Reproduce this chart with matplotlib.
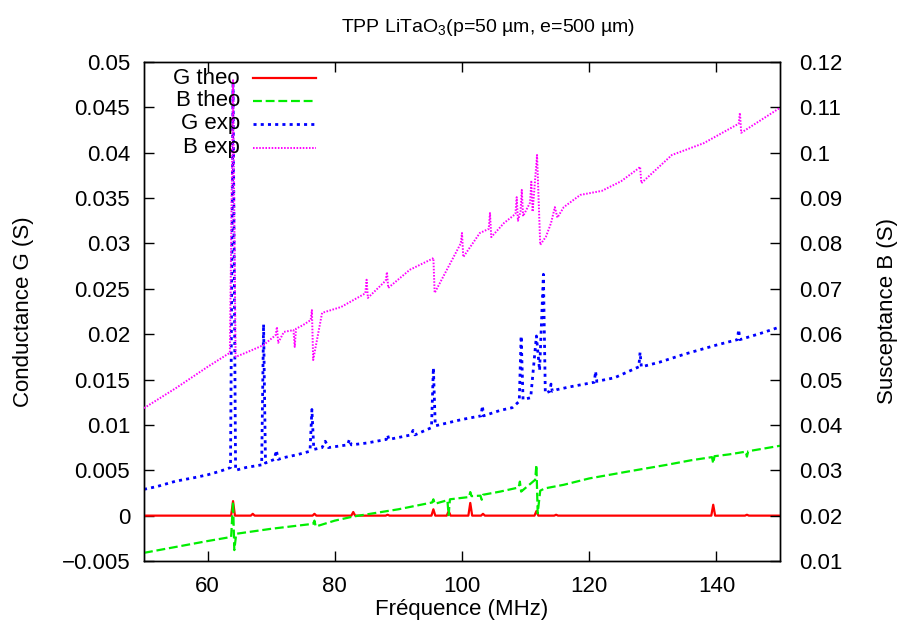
import matplotlib
matplotlib.use("Agg")
import matplotlib.pyplot as plt
from matplotlib.lines import Line2D
from matplotlib.ticker import FuncFormatter, MultipleLocator

plt.rcParams['font.family'] = ['Liberation Sans', 'DejaVu Sans']
plt.rcParams['mathtext.fontset'] = 'custom'
plt.rcParams['mathtext.rm'] = 'Liberation Sans'
plt.rcParams['mathtext.default'] = 'regular'
FS = 16

# ---------------- data ----------------
g_theo_f = [50, 63.7, 64.0, 64.3, 66.8, 67.1, 67.4, 76.5, 76.8, 77.1, 82.6, 82.9, 83.2,
            88.0, 88.3, 88.6, 95.2, 95.5, 95.8, 97.6, 97.9, 98.2, 101.0, 101.3, 101.6,
            103.0, 103.3, 103.6, 111.4, 111.7, 112.0, 114.5, 114.8, 115.1, 139.2, 139.5,
            139.8, 144.5, 144.8, 145.1, 150]
g_theo_v = [0, 0, 0.0016, 0, 0, 0.0002, 0, 0, 0.0002, 0, 0, 0.0004, 0,
            0, 0.0001, 0, 0, 0.0007, 0, 0, 0.0005, 0, 0, 0.0014, 0,
            0, 0.0002, 0, 0, 0.0005, 0, 0, 0.0001, 0, 0, 0.0012,
            0, 0, 0.0001, 0, 0]

b_theo_f = [50, 55, 60, 63.7, 64.0, 64.2, 64.5, 66, 70, 73, 76.6, 76.8, 77.0, 80, 82.9,
            86, 90, 95.3, 95.5, 95.7, 97.7, 97.9, 98.1, 101.1, 101.3, 101.5, 102.9, 103.1,
            103.3, 106, 108.9, 109.1, 109.3, 111.5, 111.7, 111.9, 112.3, 113, 116, 120,
            126, 132.2, 136, 139.3, 139.5, 139.7, 142, 144.6, 144.8, 145.0, 150]
b_theo_v = [0.0118, 0.0131, 0.0144, 0.0153, 0.0231, 0.0124, 0.0160, 0.0163, 0.0171,
            0.0176, 0.0182, 0.0189, 0.0176, 0.0189, 0.0198, 0.0205, 0.0214, 0.0229,
            0.0236, 0.0226, 0.0234, 0.0201, 0.0236, 0.0241, 0.0252, 0.0243, 0.0244,
            0.0235, 0.0246, 0.0253, 0.0262, 0.0275, 0.0253, 0.0279, 0.0312, 0.0205,
            0.0255, 0.0260, 0.0268, 0.0282, 0.0297, 0.0312, 0.0322, 0.0329, 0.0315,
            0.0331, 0.0335, 0.0341, 0.0330, 0.0342, 0.0354]

g_exp_f = [50, 52, 55, 58, 60, 62, 63.6, 64.0, 64.4, 66, 68.5, 68.8, 69.1, 70.5, 70.8,
           71.1, 72, 74, 76.1, 76.4, 76.7, 78, 78.5, 79, 80, 82, 82.3, 82.6, 85, 88.1,
           88.3, 88.5, 92, 92.3, 92.6, 95.2, 95.5, 95.8, 100, 103.0, 103.2, 103.4, 106,
           107.9, 109.0, 109.3, 109.6, 110.8, 111.7, 112.2, 112.8, 113.1, 113.8, 114.0,
           114.2, 115, 117, 120.8, 121.0, 121.2, 124, 127.8, 128.0, 128.2, 131, 135,
           140, 143.3, 143.5, 143.7, 147, 150]
g_exp_v = [0.0029, 0.0032, 0.0038, 0.0042, 0.0045, 0.0049, 0.0053, 0.0475, 0.0050,
           0.0053, 0.0056, 0.0211, 0.0058, 0.0062, 0.0072, 0.0062, 0.0064, 0.0067,
           0.0071, 0.0117, 0.0073, 0.0075, 0.0082, 0.0075, 0.0076, 0.0078, 0.0084,
           0.0078, 0.0080, 0.0084, 0.0089, 0.0084, 0.0089, 0.0094, 0.0089, 0.0097,
           0.0163, 0.0099, 0.0106, 0.0110, 0.0121, 0.0110, 0.0116, 0.0119, 0.0126,
           0.0198, 0.0128, 0.0130, 0.0198, 0.0160, 0.0266, 0.0135, 0.0137, 0.0145,
           0.0137, 0.0139, 0.0142, 0.0147, 0.0159, 0.0148, 0.0152, 0.0164, 0.0180,
           0.0164, 0.0169, 0.0178, 0.0188, 0.0194, 0.0205, 0.0194, 0.0201, 0.0208]

b_exp_f = [50, 55, 60, 63.5, 64.0, 64.4, 66, 68.8, 70.7, 70.9, 71.1, 72, 73.5, 73.7,
           73.9, 75, 76.2, 76.4, 76.6, 78, 81, 84.8, 85.0, 85.2, 88.0, 88.2, 88.4, 91.8,
           95.3, 95.5, 95.7, 99.8, 100.0, 100.2, 102.8, 104.2, 104.4, 104.6, 106.6,
           108.4, 108.6, 108.8, 109.2, 109.4, 109.6, 110.7, 110.9, 111.1, 111.8, 112.3,
           113.2, 114.0, 114.6, 115.0, 116, 118.6, 122, 125, 127.8, 128.0, 128.2, 133,
           138, 143.5, 143.7, 143.9, 150]
b_exp_v = [0.0437, 0.0481, 0.0528, 0.0559, 0.1160, 0.0550, 0.0559, 0.0576, 0.0598,
           0.0616, 0.0581, 0.0605, 0.0609, 0.0572, 0.0612, 0.0620, 0.0631, 0.0653,
           0.0543, 0.0647, 0.0660, 0.0690, 0.0720, 0.0680, 0.0718, 0.0737, 0.0702,
           0.0742, 0.0766, 0.0768, 0.0691, 0.0800, 0.0823, 0.0770, 0.0823, 0.0832,
           0.0867, 0.0814, 0.0845, 0.0865, 0.0902, 0.0850, 0.0870, 0.0918, 0.0860,
           0.0890, 0.0936, 0.0870, 0.0995, 0.0797, 0.0815, 0.0845, 0.0880, 0.0857,
           0.0880, 0.0907, 0.0916, 0.0937, 0.0966, 0.0969, 0.0933, 0.0995, 0.1021,
           0.1064, 0.1088, 0.1044, 0.1099]

labels = ["G theo", "B theo", "G exp", "B exp"]
colors = ["#ff0000", "#00ee00", "#0000ff", "#ff00ff"]

# ---------------- figure ----------------
W, H = 900, 630
fig = plt.figure(figsize=(9, 6.3), dpi=100)
ax = fig.add_axes([144 / W, 1 - 561 / H, (780 - 144) / W, (561 - 62) / H])
ax2 = ax.twinx()

styles = [dict(ls='-', lw=1.6),
          dict(ls=(0, (4, 1.7)), lw=1.6),
          dict(ls=(0, (1.1, 1.5)), lw=2.0),
          dict(ls=(0, (0.8, 0.8)), lw=1.4)]

ax.plot(g_theo_f, g_theo_v, color=colors[0], **styles[0], zorder=3)
ax.plot(g_exp_f, g_exp_v, color=colors[2], **styles[2], zorder=2)
ax2.plot(b_theo_f, b_theo_v, color=colors[1], **styles[1], zorder=2)
ax2.plot(b_exp_f, b_exp_v, color=colors[3], **styles[3], zorder=3)

ax.set_xlim(50, 150)
ax.set_ylim(-0.005, 0.05)
ax2.set_ylim(0.01, 0.12)

ax.xaxis.set_major_locator(MultipleLocator(20))
ax.yaxis.set_major_locator(MultipleLocator(0.005))
ax2.yaxis.set_major_locator(MultipleLocator(0.01))
fmt = FuncFormatter(lambda v, p: ('%g' % round(v, 6)).replace('-', '\u2212'))
ax.yaxis.set_major_formatter(fmt)
ax2.yaxis.set_major_formatter(fmt)

ax.tick_params(axis='x', direction='in', length=7, top=True, labelsize=FS, pad=11, width=1)
ax.tick_params(axis='y', direction='in', length=7, right=False, labelsize=FS, pad=10, width=1)
ax2.tick_params(axis='y', direction='in', length=7, labelsize=FS, pad=14, width=1)
for a in (ax, ax2):
    for s in a.spines.values():
        s.set_linewidth(1.0)

axw, axh = 780 - 144, 561 - 62
ax.set_xlabel("Fréquence (MHz)", fontsize=FS)
ax.xaxis.label.set_va('center')
ax.xaxis.set_label_coords(0.5, -(610 - 561) / axh)
ax.set_ylabel("Conductance G (S)", fontsize=FS)
ax.yaxis.label.set_va('center')
ax.yaxis.set_label_coords((24 - 144) / axw, 0.5)
ax2.set_ylabel("Susceptance B (S)", fontsize=FS, rotation=90)
ax2.yaxis.label.set_va('center')
ax2.yaxis.set_label_coords((887 - 144) / axw, 0.5)

fig.text(488 / W, 1 - 28 / H, "TPP LiTaO$_3$(p=50 µm, e=500 µm)",
         fontsize=14, ha='center', va='center')

# gnuplot-style legend: right aligned text, sample line to the right
rows_y = [1 - (78 - 62) / axh, 1 - (101 - 62) / axh, 1 - (124 - 62) / axh, 1 - (148 - 62) / axh]
for lab, col, st, yy in zip(labels, colors, styles, rows_y):
    ax2.text((240 - 144) / axw, yy, lab, transform=ax2.transAxes, ha='right', va='center',
             fontsize=FS)
    ax2.add_line(Line2D([(253 - 144) / axw, (316 - 144) / axw], [yy, yy],
                        transform=ax2.transAxes, color=col, ls=st['ls'], lw=st['lw']))

fig.savefig("out.png", dpi=100)
